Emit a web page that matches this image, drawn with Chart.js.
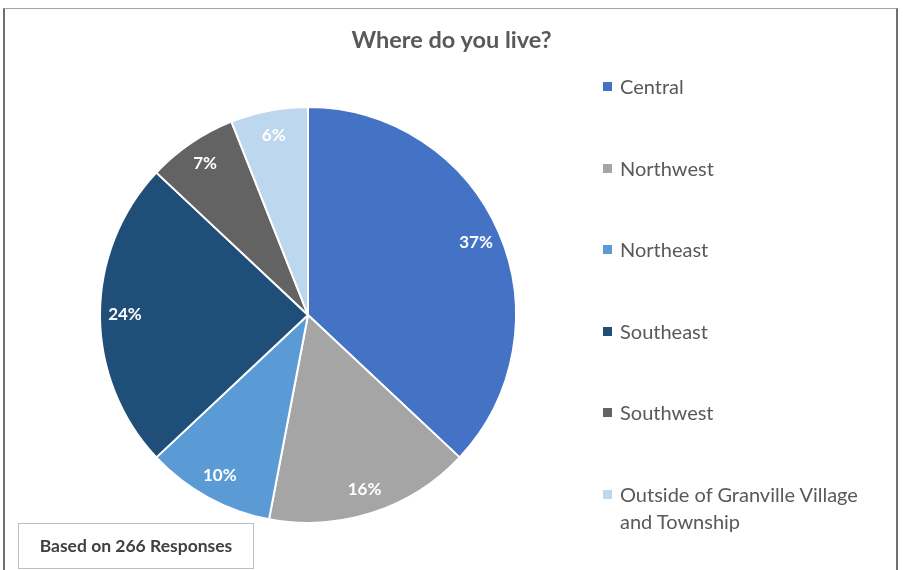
<!DOCTYPE html>
<html lang="en">

<head>
  <meta charset="UTF-8">
  <title>Where do you live?</title>
  <style>
    body {
      margin: 0;
      background: #fff;
      font-family: Lato, "Open Sans", sans-serif;
    }

    .wrap {
      position: relative;
      width: 903px;
      height: 570px;
      overflow: hidden;
    }

    .frame {
      position: absolute;
      left: 3px;
      top: 8px;
      width: 891px;
      height: 600px;
      border-top: 1px solid #a6a6a6;
      border-left: 2px solid #6f6f6f;
      border-right: 2px solid #6f6f6f;
    }

    canvas {
      position: absolute;
      left: 0;
      top: 0;
    }

    .title {
      position: absolute;
      left: 0;
      width: 903px;
      top: 25px;
      text-align: center;
      font-weight: bold;
      font-size: 23.5px;
      color: #595959;
    }

    #legend {
      position: absolute;
      left: 603px;
      top: 73px;
      margin: 0;
      padding: 0;
      list-style: none;
    }

    #legend li {
      position: relative;
      height: 81.5px;
      padding-left: 17px;
      font-size: 20px;
      line-height: 27px;
      color: #595959;
      width: 250px;
    }

    #legend li span {
      position: absolute;
      left: 0;
      top: 9px;
      width: 9px;
      height: 9px;
    }

    .note {
      position: absolute;
      left: 18px;
      top: 523px;
      width: 234px;
      height: 44px;
      border: 1px solid #bfbfbf;
      text-align: center;
      line-height: 44px;
      font-weight: bold;
      font-size: 17.5px;
      color: #404040;
    }
  </style>
  <script src="https://cdn.jsdelivr.net/npm/chart.js"></script>
</head>

<body>
  <div class="wrap">
    <div class="frame"></div>
    <canvas id="pieChart" width="903" height="570"></canvas>
    <div class="title">Where do you live?</div>
    <ul id="legend"></ul>
    <div class="note">Based on 266 Responses</div>
  </div>

  <script>
    // Survey answers, share of responses in percent
    const regions = ['Central', 'Northwest', 'Northeast', 'Southeast', 'Southwest', 'Outside of Granville Village and Township'];
    const shares = [37, 16, 10, 24, 7, 6];
    const sliceColors = ['#4472C4', '#A5A5A5', '#5B9BD5', '#1F4E79', '#636363', '#BDD7EE'];

    // Writes the percentage inside each slice
    const sliceLabels = {
      id: 'sliceLabels',
      afterDatasetsDraw(chart) {
        const ctx = chart.ctx;
        const meta = chart.getDatasetMeta(0);
        ctx.save();
        ctx.fillStyle = '#fff';
        ctx.font = 'bold 17px Lato, "Open Sans", sans-serif';
        ctx.textAlign = 'center';
        ctx.textBaseline = 'middle';
        meta.data.forEach((arc, i) => {
          const p = arc.getProps(['x', 'y', 'startAngle', 'endAngle', 'outerRadius']);
          const mid = (p.startAngle + p.endAngle) / 2;
          const r = p.outerRadius * 0.88;
          ctx.fillText(shares[i] + '%', p.x + Math.cos(mid) * r, p.y + Math.sin(mid) * r);
        });
        ctx.restore();
      }
    };

    new Chart(document.getElementById('pieChart'), {
      type: 'pie',
      data: {
        labels: regions,
        datasets: [{
          data: shares,
          backgroundColor: sliceColors,
          borderColor: '#fff',
          borderWidth: 2
        }]
      },
      options: {
        responsive: false,
        animation: false,
        layout: {
          padding: { left: 99, right: 386, top: 106, bottom: 46 }
        },
        plugins: {
          legend: { display: false },
          tooltip: { enabled: false }
        }
      },
      plugins: [sliceLabels]
    });

    // Legend list on the right
    const legend = document.getElementById('legend');
    regions.forEach((name, i) => {
      const li = document.createElement('li');
      const box = document.createElement('span');
      box.style.background = sliceColors[i];
      li.appendChild(box);
      li.appendChild(document.createTextNode(name));
      legend.appendChild(li);
    });
  </script>
</body>

</html>
